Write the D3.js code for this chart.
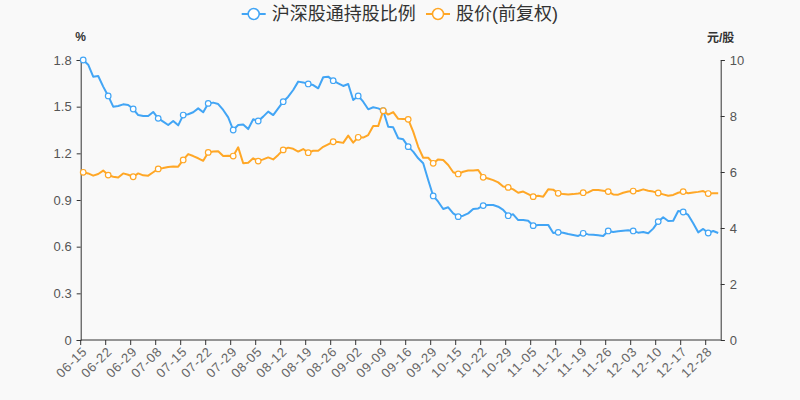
<!DOCTYPE html>
<html>
<head>
<meta charset="utf-8">
<script src="https://cdn.jsdelivr.net/npm/d3@7"></script>
<style>
html,body{margin:0;padding:0;background:#f9f9f9;}
svg{display:block;font-family:"Liberation Sans","Noto Sans CJK SC",sans-serif;}
</style>
</head>
<body>
<svg id="chart" width="800" height="400"></svg>
<script>
const dates = [
"06-15","06-16","06-17","06-18","06-19","06-22","06-23","06-24","06-25","06-26",
"06-29","06-30","07-02","07-03","07-07","07-08","07-09","07-10","07-13","07-14",
"07-15","07-16","07-17","07-20","07-21","07-22","07-23","07-24","07-27","07-28",
"07-29","07-30","07-31","08-03","08-04","08-05","08-06","08-07","08-10","08-11",
"08-12","08-13","08-14","08-17","08-18","08-19","08-20","08-21","08-24","08-25",
"08-26","08-27","08-28","08-31","09-01","09-02","09-03","09-04","09-07","09-08",
"09-09","09-10","09-11","09-14","09-15","09-16","09-17","09-18","09-22","09-28",
"09-29","09-30","10-12","10-13","10-14","10-15","10-16","10-19","10-20","10-21",
"10-22","10-23","10-26","10-27","10-28","10-29","10-30","11-02","11-03","11-04",
"11-05","11-06","11-09","11-10","11-11","11-12","11-13","11-16","11-17","11-18",
"11-19","11-20","11-23","11-24","11-25","11-26","11-27","11-30","12-01","12-02",
"12-03","12-04","12-07","12-08","12-09","12-10","12-11","12-14","12-15","12-16",
"12-17","12-18","12-21","12-22","12-23","12-28","12-29","12-30"];

// 沪深股通持股比例 (%)
const holdRatio = [
1.800,1.770,1.693,1.697,1.629,1.569,1.500,1.504,1.515,1.511,
1.485,1.446,1.440,1.440,1.466,1.425,1.404,1.382,1.408,1.380,
1.446,1.451,1.464,1.489,1.464,1.521,1.526,1.517,1.479,1.431,
1.350,1.382,1.386,1.356,1.419,1.408,1.436,1.468,1.446,1.489,
1.532,1.564,1.607,1.661,1.656,1.646,1.639,1.618,1.689,1.693,
1.667,1.650,1.633,1.646,1.543,1.569,1.532,1.483,1.496,1.489,
1.475,1.371,1.367,1.297,1.290,1.243,1.211,1.168,1.136,1.029,
0.926,0.889,0.842,0.853,0.814,0.793,0.799,0.814,0.842,0.846,
0.864,0.868,0.868,0.857,0.836,0.799,0.808,0.771,0.771,0.767,
0.735,0.739,0.739,0.740,0.688,0.692,0.690,0.681,0.675,0.669,
0.686,0.679,0.677,0.673,0.669,0.701,0.694,0.699,0.703,0.705,
0.701,0.690,0.694,0.686,0.716,0.761,0.789,0.765,0.767,0.829,
0.823,0.804,0.750,0.692,0.714,0.688,0.701,0.688];

// 股价(前复权) (元/股)
const price = [
5.99,5.95,5.87,5.93,6.05,5.89,5.83,5.80,5.95,5.90,
5.83,5.95,5.88,5.87,5.99,6.11,6.14,6.18,6.20,6.19,
6.43,6.64,6.57,6.49,6.40,6.70,6.73,6.74,6.57,6.58,
6.57,6.88,6.31,6.33,6.49,6.39,6.45,6.52,6.45,6.61,
6.79,6.87,6.83,6.73,6.82,6.69,6.76,6.76,6.90,6.99,
7.08,7.07,7.04,7.30,7.05,7.24,7.23,7.32,7.64,7.64,
8.19,8.05,8.14,7.90,7.89,7.88,7.44,6.90,6.51,6.51,
6.31,6.45,6.43,6.25,5.99,5.93,6.01,6.05,6.05,6.07,
5.81,5.77,5.71,5.63,5.48,5.45,5.38,5.26,5.30,5.21,
5.12,5.15,5.12,5.38,5.37,5.24,5.21,5.20,5.21,5.23,
5.26,5.27,5.36,5.36,5.33,5.30,5.20,5.19,5.26,5.30,
5.32,5.32,5.38,5.33,5.30,5.25,5.20,5.15,5.18,5.26,
5.30,5.24,5.27,5.29,5.32,5.23,5.24,5.24];

const leftTicks = [0, 0.3, 0.6, 0.9, 1.2, 1.5, 1.8];
const rightTicks = [0, 2, 4, 6, 8, 10];
const seriesNames = ["沪深股通持股比例", "股价(前复权)"];
const colors = ["#42a5f5", "#ffa726"];

const svg = d3.select("#chart");
const L = 80.7, R = 720.7, T = 60, B = 340;

const x = d3.scaleBand().domain(dates).range([L, R]).padding(0);
const yL = d3.scaleLinear().domain([0, 1.8]).range([B, T]);
const yR = d3.scaleLinear().domain([0, 10]).range([B, T]);
const cx = d => x(d) + x.bandwidth() / 2;

const textColor = "#555";
const axisColor = "#333";

// Left axis
const gL = svg.append("g").attr("transform", `translate(${L},0)`)
  .call(d3.axisLeft(yL).tickValues(leftTicks).tickFormat(d => String(d)).tickSize(4).tickPadding(5));
// Right axis
const gR = svg.append("g").attr("transform", `translate(${R},0)`)
  .call(d3.axisRight(yR).tickValues(rightTicks).tickFormat(d => String(d)).tickSize(4).tickPadding(5));
[gL, gR].forEach(g => {
  g.select(".domain").attr("stroke", axisColor).attr("stroke-width", 1);
  g.selectAll(".tick line").attr("stroke", axisColor);
  g.selectAll(".tick text").attr("fill", textColor).style("font-size", "13px");
});

// Bottom axis: labels at band centers, ticks at band boundaries every 5
const labelCats = dates.filter((d, i) => i % 5 === 0);
const gB = svg.append("g").attr("transform", `translate(0,${B})`);
gB.append("line").attr("x1", L).attr("x2", R).attr("y1", 0).attr("y2", 0)
  .attr("stroke", axisColor);
gB.selectAll("line.tk").data(labelCats).enter().append("line")
  .attr("class", "tk")
  .attr("x1", d => x(d)).attr("x2", d => x(d))
  .attr("y1", 0).attr("y2", 5).attr("stroke", axisColor);
gB.selectAll("text").data(labelCats).enter().append("text")
  .attr("transform", d => `translate(${cx(d) + 1.5},${9}) rotate(-45)`)
  .attr("text-anchor", "end")
  .attr("dy", "0.35em")
  .attr("fill", "#666")
  .style("font-size", "13px")
  .style("letter-spacing", "0.8px")
  .text(d => d);

// Units
svg.append("text").attr("x", L).attr("y", 41).attr("text-anchor", "middle")
  .attr("fill", "#333").style("font-size", "12px").style("font-weight", "bold").text("%");
svg.append("text").attr("x", R).attr("y", 42).attr("text-anchor", "middle")
  .attr("fill", "#333").style("font-size", "12px").style("font-weight", "bold").text("元/股");

// Lines
const series = [
  {vals: holdRatio, y: yL, color: colors[0]},
  {vals: price, y: yR, color: colors[1]}
];
series.forEach(s => {
  const line = d3.line().x((d, i) => cx(dates[i])).y(d => s.y(d));
  svg.append("path").datum(s.vals)
    .attr("d", line).attr("fill", "none")
    .attr("stroke", s.color).attr("stroke-width", 2)
    .attr("stroke-linejoin", "round");
});
series.forEach(s => {
  const pts = s.vals.map((v, i) => ({v, i})).filter(p => p.i % 5 === 0);
  svg.append("g").selectAll("circle").data(pts).enter().append("circle")
    .attr("cx", p => cx(dates[p.i])).attr("cy", p => s.y(p.v)).attr("r", 2.8)
    .attr("fill", "#fff").attr("stroke", s.color).attr("stroke-width", 1.2);
});

// Legend
const legend = svg.append("g");
const lx = [241.7, 426];
seriesNames.forEach((name, k) => {
  const g = legend.append("g").attr("transform", `translate(${lx[k]},14)`);
  g.append("line").attr("x1", 0).attr("x2", 24).attr("y1", 0).attr("y2", 0)
    .attr("stroke", colors[k]).attr("stroke-width", 2);
  g.append("circle").attr("cx", 12).attr("cy", 0).attr("r", 5.5)
    .attr("fill", "#fff").attr("stroke", colors[k]).attr("stroke-width", 1.5);
  g.append("text").attr("x", 30).attr("y", 0).attr("dy", "0.35em")
    .attr("fill", "#333").style("font-size", "18px").text(name);
});
</script>
</body>
</html>
